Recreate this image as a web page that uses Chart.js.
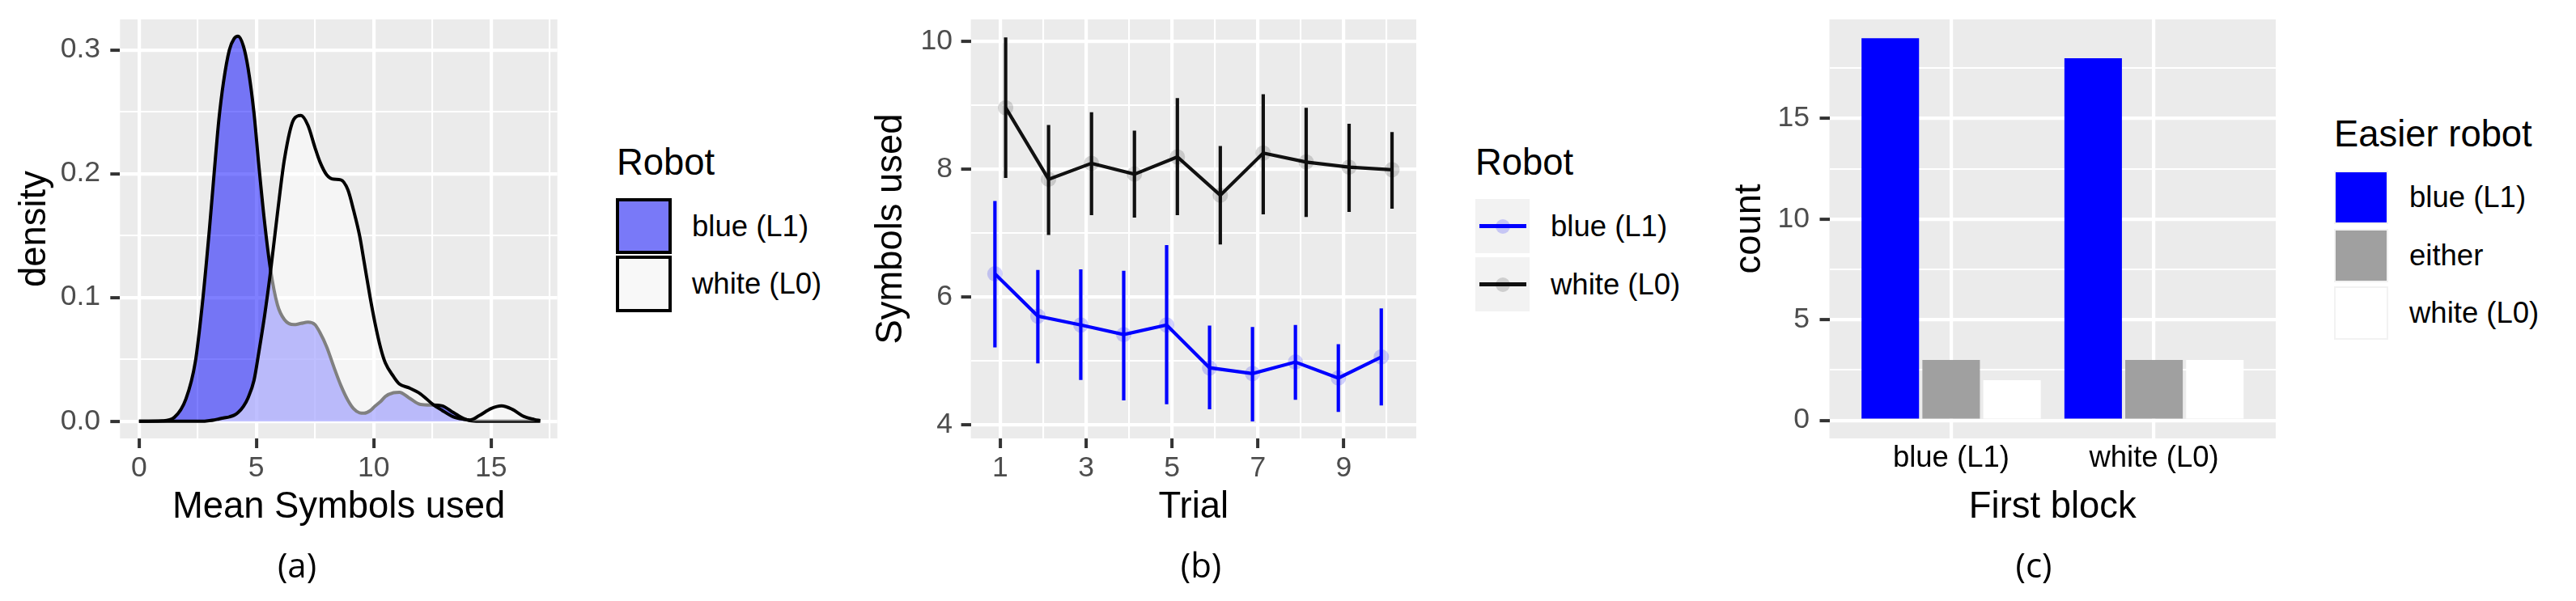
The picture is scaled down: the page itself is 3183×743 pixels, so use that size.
<!DOCTYPE html>
<html>
<head>
<meta charset="utf-8">
<script src="https://cdn.jsdelivr.net/npm/chart.js@4.4.1/dist/chart.umd.min.js"></script>
<style>
body { margin:0; background:#fff; width:3183px; height:743px; position:relative; overflow:hidden; font-family:'Liberation Sans', Arial, sans-serif; }
canvas { position:absolute; top:0; }
.cap { position:absolute; width:200px; text-align:center; font-family:'Open Sans', sans-serif; font-size:42px; line-height:42px; top:677px; color:#000; }
.lgt { position:absolute; font-size:45.4px; line-height:45.4px; color:#000; white-space:nowrap; }
.row { position:absolute; display:flex; align-items:center; }
.key { box-sizing:border-box; position:relative; flex:none; }
.lab { font-size:36.5px; color:#000; white-space:nowrap; }
.ln { position:absolute; left:4.7px; top:31.4px; width:58px; height:4.3px; }
.pt { position:absolute; left:24.5px; top:24.5px; width:18px; height:18px; border-radius:50%; }
</style>
</head>
<body>
<canvas id="chartA" width="700" height="743" style="left:0"></canvas>
<canvas id="chartB" width="710" height="743" style="left:1050px"></canvas>
<canvas id="chartC" width="722" height="743" style="left:2100px"></canvas>

<!-- legend (a) -->
<div class="lgt" style="left:762px;top:178px">Robot</div>
<div class="row" style="left:761px;top:245px;height:69px">
  <div class="key" style="width:69px;height:69px;border:4px solid #000;background:rgb(121,121,248)"></div>
  <span class="lab" style="margin-left:25px">blue (L1)</span>
</div>
<div class="row" style="left:761px;top:316px;height:70px">
  <div class="key" style="width:69px;height:70px;border:4px solid #000;background:#f8f8f8"></div>
  <span class="lab" style="margin-left:25px">white (L0)</span>
</div>

<!-- legend (b) -->
<div class="lgt" style="left:1823px;top:178px">Robot</div>
<div class="row" style="left:1823px;top:246px;height:67px">
  <div class="key" style="width:67px;height:67px;background:#f2f2f2">
    <div class="ln" style="background:#0000ff"></div>
    <div class="pt" style="background:rgba(0,0,255,0.18)"></div>
  </div>
  <span class="lab" style="margin-left:26px">blue (L1)</span>
</div>
<div class="row" style="left:1823px;top:318px;height:67px">
  <div class="key" style="width:67px;height:67px;background:#f2f2f2">
    <div class="ln" style="background:#111"></div>
    <div class="pt" style="background:rgba(0,0,0,0.15)"></div>
  </div>
  <span class="lab" style="margin-left:26px">white (L0)</span>
</div>

<!-- legend (c) -->
<div class="lgt" style="left:2884px;top:143px">Easier robot</div>
<div class="row" style="left:2884px;top:211px;height:66px">
  <div class="key" style="width:67px;height:66px;border:2.5px solid #f2f2f2;background:#0000ff"></div>
  <span class="lab" style="margin-left:26px">blue (L1)</span>
</div>
<div class="row" style="left:2884px;top:283px;height:66px">
  <div class="key" style="width:67px;height:66px;border:2.5px solid #f2f2f2;background:#a0a0a0"></div>
  <span class="lab" style="margin-left:26px">either</span>
</div>
<div class="row" style="left:2884px;top:354px;height:66px">
  <div class="key" style="width:67px;height:66px;border:2.5px solid #f2f2f2;background:#ffffff"></div>
  <span class="lab" style="margin-left:26px">white (L0)</span>
</div>

<div class="cap" style="left:267px">(a)</div>
<div class="cap" style="left:1384px">(b)</div>
<div class="cap" style="left:2413px">(c)</div>

<script>
// (a) density of mean symbols used
const densX  = [0, 1, 1.5, 2, 2.4, 2.7, 3, 3.2, 3.4, 3.6, 3.85, 4.05, 4.22, 4.45, 4.65, 4.9, 5.1, 5.35, 5.6, 5.9,
                6.2, 6.6, 6.9, 7.2, 7.5, 7.7, 8, 8.3, 8.6, 8.9, 9.15, 9.4, 9.6, 9.85, 10.05, 10.3, 10.5, 10.85,
                11.1, 11.5, 12, 12.5, 12.9, 13.4, 13.85, 14.1, 14.5, 15, 15.45, 15.9, 16.4, 16.85, 17.1];
const densL1 = [0, 0.0003, 0.003, 0.018, 0.048, 0.095, 0.155, 0.2, 0.243, 0.274, 0.3, 0.309, 0.311, 0.303, 0.285,
                0.249, 0.208, 0.161, 0.123, 0.094, 0.082, 0.078, 0.079, 0.08, 0.078, 0.072, 0.06, 0.044, 0.029,
                0.017, 0.01, 0.0068, 0.0065, 0.0085, 0.012, 0.016, 0.02, 0.023, 0.0234, 0.019, 0.0135, 0.013,
                0.0125, 0.007, 0.002, 0.0005, 0, 0, 0, 0, 0, 0, 0];
const densL0 = [0, 0, 0, 0, 0, 0, 0.0005, 0.001, 0.0018, 0.0026, 0.0035, 0.0048, 0.007, 0.012, 0.019, 0.033, 0.055,
                0.085, 0.12, 0.168, 0.212, 0.244, 0.247, 0.239, 0.221, 0.21, 0.199, 0.1955, 0.195, 0.187, 0.17,
                0.15, 0.128, 0.1, 0.08, 0.059, 0.047, 0.036, 0.03, 0.027, 0.022, 0.014, 0.009, 0.0035, 0.0015,
                0.001, 0.0045, 0.0102, 0.0124, 0.0097, 0.0038, 0.0014, 0.0005];
const aXTicks = [0, 5, 10, 15];
const aXMinor = [2.5, 7.5, 12.5, 17.5];
const aYTicks = [0, 0.1, 0.2, 0.3];
const aYMinor = [0.05, 0.15, 0.25];

// (b) symbols used per trial, mean with error bar
const trials = [1, 2, 3, 4, 5, 6, 7, 8, 9, 10];
const l1Mean = [6.36, 5.70, 5.56, 5.41, 5.56, 4.89, 4.80, 4.98, 4.73, 5.06];
const l1Lo   = [5.21, 4.96, 4.70, 4.38, 4.32, 4.24, 4.05, 4.39, 4.20, 4.30];
const l1Hi   = [7.50, 6.42, 6.43, 6.41, 6.81, 5.55, 5.53, 5.56, 5.26, 5.82];
const l0Mean = [8.96, 7.84, 8.09, 7.92, 8.19, 7.59, 8.25, 8.11, 8.03, 7.99];
const l0Lo   = [7.86, 6.97, 7.28, 7.24, 7.28, 6.82, 7.29, 7.25, 7.33, 7.38];
const l0Hi   = [10.06, 8.69, 8.89, 8.60, 9.11, 8.36, 9.17, 8.96, 8.71, 8.58];
const bXTicks = [1, 3, 5, 7, 9];
const bXMinor = [2, 4, 6, 8, 10];
const bYTicks = [4, 6, 8, 10];
const bYMinor = [5, 7, 9];

// (c) easier robot by first block
const firstBlock   = ['blue (L1)', 'white (L0)'];
const easierBlue   = [19, 18];
const easierEither = [3, 3];
const easierWhite  = [2, 3];
const cYTicks = [0, 5, 10, 15];
const cYMinor = [2.5, 7.5, 12.5, 17.5];

Chart.defaults.font.family = "'Liberation Sans', Arial, sans-serif";

const panelBg = {
  id: 'panelBg',
  beforeDraw(chart) {
    const a = chart.chartArea, ctx = chart.ctx;
    ctx.save();
    ctx.fillStyle = '#ebebeb';
    ctx.fillRect(a.left, a.top, a.right - a.left, a.bottom - a.top);
    ctx.restore();
  }
};

function axis(o) {
  const major = o.major;
  const all = major.concat(o.minor || []).sort((a, b) => a - b);
  return {
    type: 'linear', min: o.min, max: o.max, offset: false, bounds: 'data',
    afterBuildTicks: s => { s.ticks = all.map(v => ({value: v})); },
    afterFit: s => {
      if (o.w) s.width = o.w;
      if (o.h) s.height = o.h;
      s.paddingTop = s.paddingBottom = s.paddingLeft = s.paddingRight = 0;
    },
    border: {display: false},
    grid: {
      offset: false,
      color: '#ffffff',
      lineWidth: c => major.includes(c.tick.value) ? 4.2 : 2.1,
      drawTicks: o.ticks !== false,
      tickLength: 12,
      tickWidth: 4,
      tickColor: c => major.includes(c.tick.value) ? '#333333' : 'rgba(0,0,0,0)'
    },
    ticks: {
      autoSkip: false, maxRotation: 0, minRotation: 0, padding: o.pad,
      color: o.color || '#4d4d4d',
      font: {size: o.size || 35.5, lineHeight: 1.2},
      callback: v => major.includes(v) ? o.fmt(v) : ''
    },
    title: {display: true, text: o.title, color: '#000', font: {size: 45.4, lineHeight: 1.2}, padding: o.titlePad}
  };
}

const common = {
  responsive: false, animation: false, events: [], devicePixelRatio: 1,
  plugins: {legend: {display: false}, tooltip: {enabled: false}}
};

// (a)
new Chart(document.getElementById('chartA'), {
  type: 'line',
  data: {
    datasets: [
      {label: 'blue (L1)', data: densX.map((x, i) => ({x: x, y: densL1[i]})),
       borderColor: '#000', borderWidth: 4, backgroundColor: 'rgba(0,0,255,0.5)', fill: 'origin',
       pointRadius: 0, cubicInterpolationMode: 'monotone', order: 2},
      {label: 'white (L0)', data: densX.map((x, i) => ({x: x, y: densL0[i]})),
       borderColor: '#000', borderWidth: 4, backgroundColor: 'rgba(255,255,255,0.5)', fill: 'origin',
       pointRadius: 0, cubicInterpolationMode: 'monotone', order: 1}
    ]
  },
  options: Object.assign({}, common, {
    layout: {padding: {left: 0, top: 24, right: 11.3, bottom: 0}},
    scales: {
      x: axis({min: -0.81, max: 17.83, major: aXTicks, minor: aXMinor, h: 201, pad: 3.7,
               fmt: v => String(v), title: 'Mean Symbols used', titlePad: {top: 0, bottom: 87.8}}),
      y: axis({min: -0.0139, max: 0.3246, major: aYTicks, minor: aYMinor, w: 148.3, pad: 12.3,
               fmt: v => v.toFixed(1), title: 'density', titlePad: {top: 16.4, bottom: 0}})
    }
  }),
  plugins: [panelBg]
});

// (b)
const dodge = 0.125;
function errBars(lo, hi, sign, color) {
  return {type: 'bar', data: trials.map((t, i) => ({x: t + sign * dodge, y: [lo[i], hi[i]]})),
          backgroundColor: color, maxBarThickness: 4.2, grouped: false, order: 2};
}
function meanLine(label, mean, sign, color, ptColor) {
  return {type: 'line', label: label, data: trials.map((t, i) => ({x: t + sign * dodge, y: mean[i]})),
          borderColor: color, borderWidth: 4.2, tension: 0, pointRadius: 9.5, pointBorderWidth: 0,
          pointBackgroundColor: ptColor, order: 1};
}
new Chart(document.getElementById('chartB'), {
  type: 'line',
  data: {
    datasets: [
      errBars(l1Lo, l1Hi, -1, '#0000ff'),
      errBars(l0Lo, l0Hi, 1, '#111111'),
      meanLine('blue (L1)', l1Mean, -1, '#0000ff', 'rgba(0,0,255,0.18)'),
      meanLine('white (L0)', l0Mean, 1, '#111111', 'rgba(0,0,0,0.15)')
    ]
  },
  options: Object.assign({}, common, {
    layout: {padding: {left: 0, top: 24, right: 10, bottom: 0}},
    scales: {
      x: axis({min: 0.314, max: 10.69, major: bXTicks, minor: bXMinor, h: 201, pad: 3.7,
               fmt: v => String(v), title: 'Trial', titlePad: {top: 0, bottom: 87.8}}),
      y: axis({min: 3.785, max: 10.342, major: bYTicks, minor: bYMinor, w: 149.6, pad: 10.6,
               fmt: v => String(v), title: 'Symbols used', titlePad: {top: 23.8, bottom: 0}})
    }
  }),
  plugins: [panelBg]
});

// (c)
function countBars(label, values, color) {
  return {label: label, data: values.map((v, i) => ({x: i + 1, y: v})), backgroundColor: color,
          categoryPercentage: 0.9, barPercentage: 0.945};
}
new Chart(document.getElementById('chartC'), {
  type: 'bar',
  data: {
    datasets: [
      countBars('blue (L1)', easierBlue, '#0000ff'),
      countBars('either', easierEither, '#a0a0a0'),
      countBars('white (L0)', easierWhite, '#ffffff')
    ]
  },
  options: Object.assign({}, common, {
    layout: {padding: {left: 0, top: 24, right: 10, bottom: 0}},
    scales: {
      x: axis({min: 0.4, max: 2.6, major: [1, 2], minor: [], h: 201, pad: 3.1, ticks: false, color: '#000',
               size: 36.5, fmt: v => firstBlock[v - 1], title: 'First block', titlePad: {top: 0, bottom: 87.8}}),
      y: axis({min: -0.9, max: 19.93, major: cYTicks, minor: cYMinor, w: 160.5, pad: 12.5,
               fmt: v => String(v), title: 'count', titlePad: {top: 35.3, bottom: 0}})
    }
  }),
  plugins: [panelBg]
});
</script>
</body>
</html>
